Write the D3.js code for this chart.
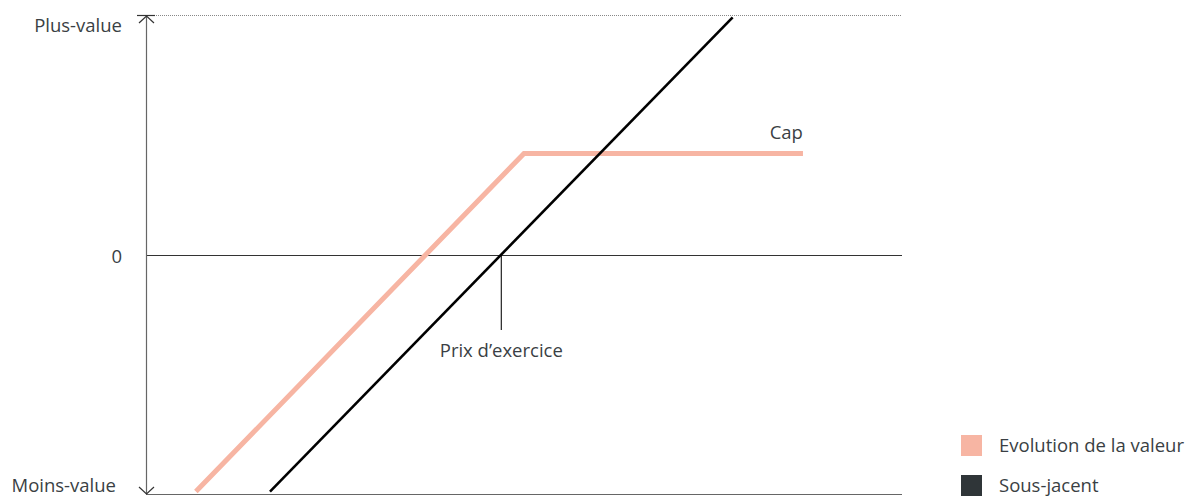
<!DOCTYPE html>
<html><head><meta charset="utf-8">
<script src="https://cdn.jsdelivr.net/npm/d3@7"></script>
<style>
body{margin:0;background:#fff;}
text{font-family:"Open Sans", "Noto Sans", sans-serif;fill:#3a3f44;font-variant-ligatures:none;}
</style></head>
<body><svg id="c" width="1189" height="496"></svg>
<script>
// Data
const sousJacentX = [16.4, 77.6];
const sousJacentY = [-99, 99];
const valeurX = [6.6, 50, 86.9];
const valeurY = [-99, 42.2, 42.2];
const strike = 47;
const yTickValues = [-100, 0, 100];
const yTickLabels = ["Moins-value", "0", "Plus-value"];
const legendLabels = ["Evolution de la valeur", "Sous-jacent"];
const legendColors = ["#f7b5a3", "#2f3538"];

const FS = 18.5;
const svg = d3.select("#c");
const x = d3.scaleLinear().domain([0, 100]).range([146, 902]);
const y = d3.scaleLinear().domain([-100, 100]).range([494, 15]);

// top dotted line
svg.append("line").attr("x1", x(0)).attr("x2", x(100)).attr("y1", y(100)+0.5).attr("y2", y(100)+0.5)
  .attr("stroke", "#888").attr("stroke-width", 1).attr("stroke-dasharray", "1,1");
// bottom line
svg.append("line").attr("x1", x(0)).attr("x2", x(100)).attr("y1", y(-100)+0.5).attr("y2", y(-100)+0.5)
  .attr("stroke", "#666").attr("stroke-width", 1);
// zero line
svg.append("line").attr("x1", x(0)).attr("x2", x(100)).attr("y1", Math.round(y(0))+0.5).attr("y2", Math.round(y(0))+0.5)
  .attr("stroke", "#333").attr("stroke-width", 1);
// y axis line
svg.append("line").attr("x1", x(0)+0.5).attr("x2", x(0)+0.5).attr("y1", y(100)).attr("y2", y(-100))
  .attr("stroke", "#666").attr("stroke-width", 1.2);
// top cap and arrows
svg.append("line").attr("x1", x(0)-9).attr("x2", x(0)+9).attr("y1", y(100)+0.5).attr("y2", y(100)+0.5)
  .attr("stroke", "#333").attr("stroke-width", 1.2);
svg.append("path").attr("d", `M${x(0)-7},${y(100)+8} L${x(0)+0.5},${y(100)+1} L${x(0)+8},${y(100)+8}`)
  .attr("fill", "none").attr("stroke", "#333").attr("stroke-width", 1.2);
svg.append("path").attr("d", `M${x(0)-7},${y(-100)-7} L${x(0)+0.5},${y(-100)} L${x(0)+8},${y(-100)-7}`)
  .attr("fill", "none").attr("stroke", "#333").attr("stroke-width", 1.2);

// y labels
const yLabelDy = [-2, 8, 17];
svg.selectAll("text.ylab").data(yTickValues).enter().append("text")
  .attr("class", "ylab")
  .attr("x", (d, i) => i === 0 ? 116 : 122)
  .attr("y", (d, i) => y(d) + yLabelDy[i])
  .attr("text-anchor", "end")
  .attr("font-size", FS)
  .text((d, i) => yTickLabels[i]);

// strike marker
svg.append("line").attr("x1", x(strike)).attr("x2", x(strike)).attr("y1", y(0)).attr("y2", 330)
  .attr("stroke", "#222").attr("stroke-width", 1.2);
svg.append("text").attr("x", x(strike)).attr("y", 357).attr("text-anchor", "middle")
  .attr("font-size", FS).text("Prix d\u2019exercice");

const line = d3.line().x(d => x(d[0])).y(d => y(d[1]));
// pink series
svg.append("path").datum(valeurX.map((v, i) => [v, valeurY[i]]))
  .attr("d", line).attr("fill", "none").attr("stroke", legendColors[0]).attr("stroke-width", 5);
// black series
svg.append("path").datum(sousJacentX.map((v, i) => [v, sousJacentY[i]]))
  .attr("d", line).attr("fill", "none").attr("stroke", "#000").attr("stroke-width", 2.6);

// Cap label
svg.append("text").attr("x", x(valeurX[2])).attr("y", y(valeurY[2]) - 14).attr("text-anchor", "end")
  .attr("font-size", FS).text("Cap");

// legend
const lg = svg.selectAll("g.lg").data(legendLabels).enter().append("g").attr("class", "lg")
  .attr("transform", (d, i) => `translate(961, ${435 + i * 40})`);
lg.append("rect").attr("width", 21).attr("height", 21).attr("fill", (d, i) => legendColors[i]);
lg.append("text").attr("x", 38).attr("y", 17).attr("font-size", FS).text(d => d);
</script></body></html>
